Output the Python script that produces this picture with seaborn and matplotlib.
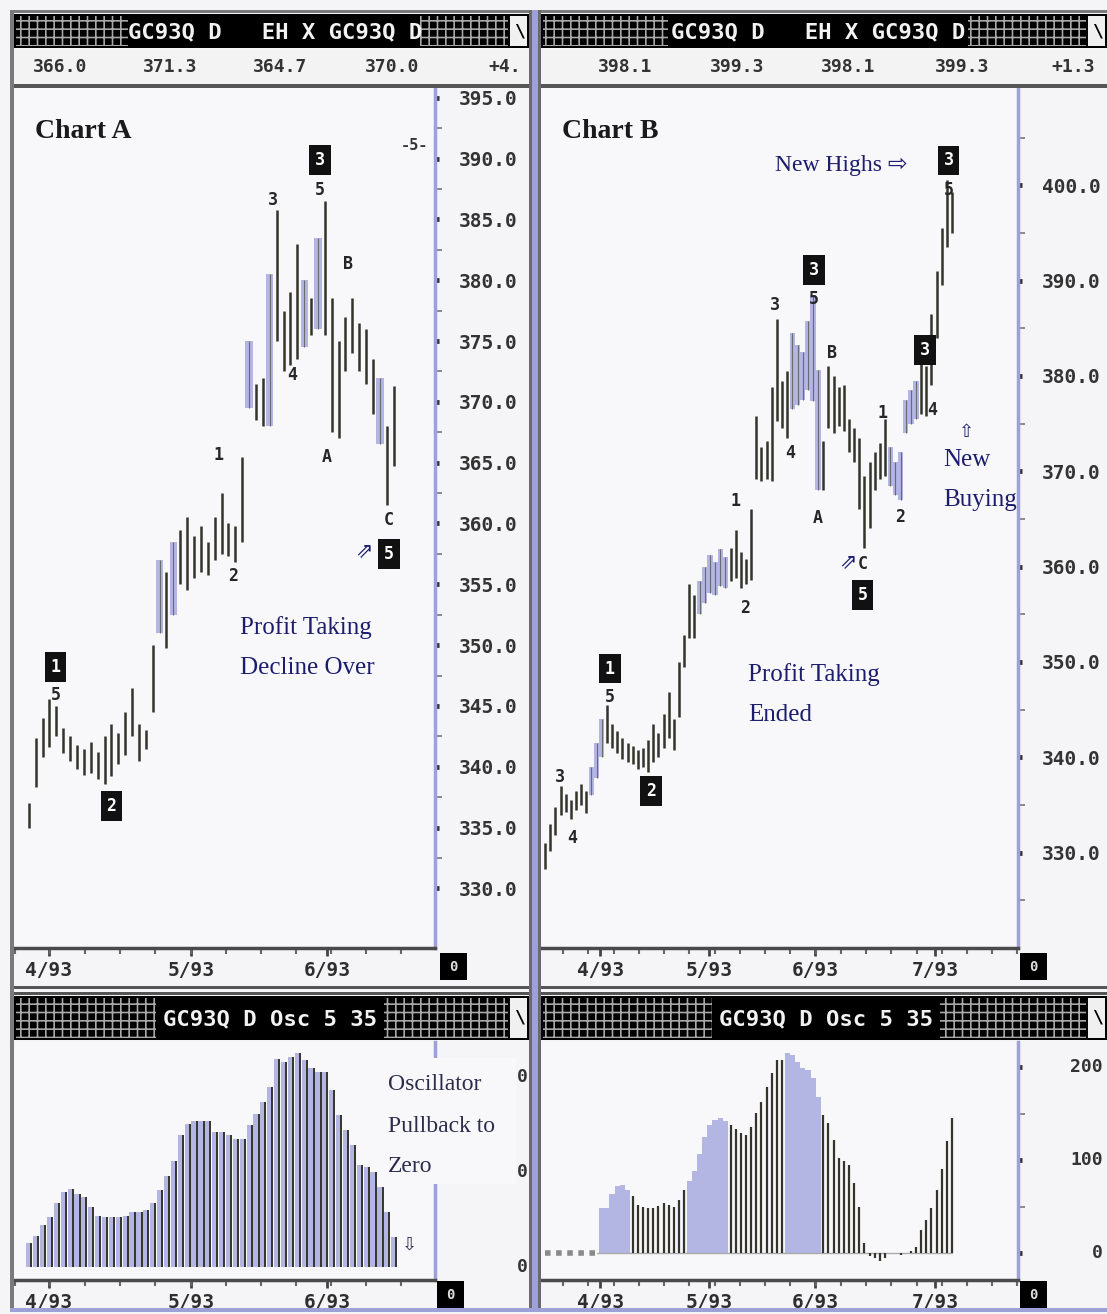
import numpy as np
import matplotlib
matplotlib.use('Agg')
import matplotlib.pyplot as plt
from matplotlib.patches import Rectangle
import seaborn as sns

# ---- Chart A: daily high / low, one entry per trading day ----
a_high = [337.0, 342.4, 344.0, 345.6, 345.0, 343.2, 342.5, 341.8, 341.5, 342.0,
          341.2, 342.5, 343.5, 342.8, 344.5, 346.5, 343.5, 343.0, 350.0, 357.0,
          356.0, 358.5, 359.5, 360.5, 359.0, 359.8, 358.5, 360.5, 362.5, 360.0,
          359.8, 365.5, 375.0, 371.5, 372.0, 380.5, 385.8, 377.5, 379.0, 383.0,
          380.0, 378.5, 383.5, 386.5, 378.5, 375.0, 377.0, 378.5, 376.5, 376.0,
          373.5, 372.0, 368.0, 371.3]
a_low = [335.0, 338.3, 340.8, 341.6, 342.5, 341.1, 340.5, 339.8, 339.3, 339.5,
         339.0, 338.6, 339.2, 340.2, 341.0, 342.5, 340.5, 341.5, 344.5, 351.0,
         349.8, 352.5, 355.0, 354.5, 355.5, 356.0, 355.8, 357.0, 357.5, 357.3,
         356.8, 358.5, 369.5, 368.5, 368.0, 368.0, 375.0, 372.5, 373.0, 373.5,
         374.5, 375.5, 376.0, 375.5, 367.5, 367.0, 372.5, 374.0, 372.5, 371.5,
         369.0, 366.5, 361.5, 364.7]
a_shaded = [19, 21, 32, 35, 40, 42, 51]

# ---- Chart B ----
b_high = [331.0, 333.0, 334.8, 337.0, 336.2, 335.5, 336.5, 337.2, 336.5, 339.0,
          341.5, 344.0, 345.5, 343.5, 342.8, 342.0, 341.5, 341.2, 340.8, 341.0,
          341.8, 343.5, 342.5, 344.5, 346.8, 344.0, 350.0, 352.8, 358.2, 357.0,
          358.5, 360.0, 361.2, 360.5, 361.8, 361.0, 362.0, 363.8, 361.5, 360.8,
          366.0, 375.8, 372.5, 373.2, 378.8, 386.0, 379.5, 380.5, 384.5, 383.2,
          382.5, 385.8, 388.5, 380.6, 373.2, 381.0, 380.0, 378.8, 379.0, 375.5,
          374.5, 373.5, 369.5, 371.0, 372.0, 373.0, 375.5, 372.5, 371.0, 372.0,
          377.5, 378.5, 379.5, 382.5, 381.0, 386.5, 391.0, 395.5, 400.5, 399.3]
b_low = [328.3, 330.2, 331.8, 334.0, 334.3, 333.5, 334.5, 335.0, 334.2, 336.0,
         337.8, 340.0, 341.5, 341.0, 340.5, 339.8, 339.5, 339.3, 338.8, 339.0,
         338.5, 339.5, 340.0, 341.0, 342.0, 340.8, 344.2, 349.5, 352.5, 352.5,
         355.0, 356.2, 357.2, 357.0, 358.0, 357.8, 358.5, 358.8, 357.8, 358.2,
         358.6, 369.2, 369.0, 369.2, 369.0, 375.3, 374.5, 373.5, 376.5, 377.0,
         377.5, 378.5, 377.4, 368.0, 368.0, 374.5, 374.0, 374.8, 374.2, 372.0,
         371.0, 366.0, 362.0, 364.0, 368.0, 369.2, 369.5, 368.5, 367.5, 367.0,
         374.0, 375.0, 375.5, 376.0, 375.8, 379.0, 384.0, 389.5, 393.5, 395.0]
b_shaded = [9, 10, 11, 30, 31, 32, 33, 34, 35, 48, 49, 50, 51, 52, 53,
            67, 68, 69, 70, 71, 72]

# ---- Osc 5/35 histograms ----
osc_a = [25, 33, 44, 53, 67, 79, 82, 77, 74, 63,
         54, 53, 53, 53, 54, 58, 58, 60, 67, 81,
         96, 112, 139, 151, 154, 154, 154, 142, 142, 139,
         135, 135, 149, 161, 174, 189, 219, 216, 221, 225,
         218, 209, 205, 205, 186, 160, 144, 128, 107, 105,
         100, 84, 58, 32]
osc_b = [0, 0, 0, 0, 0, 0, 0, 0, 0, 0,
         0, 48, 48, 64, 72, 73, 68, 61, 52, 50,
         48, 48, 51, 54, 52, 50, 57, 68, 77, 88,
         106, 125, 138, 143, 145, 142, 138, 133, 129, 127,
         136, 151, 163, 179, 194, 208, 208, 215, 213, 206,
         199, 197, 188, 168, 149, 140, 122, 102, 99, 95,
         75, 50, 11, -3, -5, -9, -5, 0, 0, -2,
         0, 2, 7, 25, 36, 48, 68, 90, 120, 145]
osc_b_shaded = [(11, 16), (28, 35), (47, 53)]
osc_b_flat = 11  # leading days drawn as the dotted zero line

# ---- axis text ----
a_months = ['4/93', '5/93', '6/93']
a_month_pos = [2.9, 23.6, 43.3]
b_months = ['4/93', '5/93', '6/93', '7/93']
b_month_pos = [10.7, 31.8, 52.4, 75.7]
a_quote = ['366.0', '371.3', '364.7', '370.0', '+4.']
b_quote = ['398.1', '399.3', '398.1', '399.3', '+1.3']
osc_b_ticks = ['200', '100', '0']
price_title = 'GC93Q D   EH X GC93Q D'
osc_title = 'GC93Q D Osc 5 35'

# wave counts: (label, day index, price, boxed)
a_waves = [('1', 3.9, 348.2, True), ('5', 3.9, 345.9, False), ('2', 12, 336.8, True),
           ('1', 27.6, 365.6, False), ('2', 29.7, 355.7, False), ('3', 35.4, 386.6, False),
           ('4', 38.3, 372.2, False), ('3', 42.3, 389.9, True), ('5', 42.3, 387.4, False),
           ('A', 43.3, 365.5, False), ('B', 46.4, 381.3, False), ('C', 52.3, 360.3, False),
           ('5', 52.3, 357.5, True)]
b_waves = [('3', 2.9, 337.9, False), ('4', 5.2, 331.5, False), ('1', 12.6, 349.3, True),
           ('5', 12.6, 346.3, False), ('2', 20.6, 336.5, True), ('1', 36.9, 366.9, False),
           ('2', 38.8, 355.7, False), ('3', 44.7, 387.4, False), ('4', 47.6, 371.9, False),
           ('3', 52.2, 391.1, True), ('5', 52.2, 388.1, False), ('A', 53.0, 365.1, False),
           ('B', 55.7, 382.4, False), ('C', 61.6, 360.3, False), ('5', 61.6, 357.0, True),
           ('1', 65.4, 376.1, False), ('2', 68.9, 365.2, False), ('3', 73.8, 382.7, True),
           ('4', 75.1, 376.4, False), ('3', 78.3, 402.6, True), ('5', 78.3, 399.5, False)]

W, H = 1107, 1314
DARK = '#34342a'
LAV = '#b3b5e3'
AXLAV = '#9ea0d8'
NAVY = '#1d1d6e'
MONO = 'DejaVu Sans Mono'
SERIF = ['Liberation Serif', 'DejaVu Sans']

sns.set_theme(style='white')
plt.rcParams['font.family'] = ['DejaVu Sans']
plt.rcParams['hatch.linewidth'] = 1.2

fig = plt.figure(figsize=(W / 100, H / 100), dpi=100)
fig.patch.set_facecolor('#f5f5f7')


def fx(x):
    return x / W


def fy(y):
    return 1 - y / H


def frect(x0, y0, x1, y1, z=1, **kw):
    fig.add_artist(Rectangle((fx(x0), fy(y1)), fx(x1) - fx(x0), fy(y0) - fy(y1),
                             transform=fig.transFigure, zorder=z, **kw))


def ftext(x, y, s, z=6, **kw):
    fig.text(fx(x), fy(y), s, zorder=z, **kw)


def new_ax(x0, y0, x1, y1):
    ax = fig.add_axes([fx(x0), fy(y1), fx(x1) - fx(x0), fy(y0) - fy(y1)])
    ax.set_facecolor('#f8f8fb')
    ax.spines['top'].set_visible(False)
    ax.spines['left'].set_visible(False)
    ax.spines['right'].set_color(AXLAV)
    ax.spines['right'].set_linewidth(2.5)
    ax.spines['bottom'].set_color('#4a4a4a')
    ax.spines['bottom'].set_linewidth(2.5)
    ax.yaxis.tick_right()
    ax.set_xlabel('')
    ax.set_ylabel('')
    return ax


def date_axis(ax, pos, labels, weeks):
    ax.set_xticks(pos, labels=labels, fontfamily=MONO, fontweight='bold',
                  fontsize=14, color='#2e2e2e')
    ax.set_xticks(weeks, minor=True)
    ax.tick_params(axis='x', which='major', direction='out', length=6, width=2,
                   color='#444', pad=3, bottom=True)
    ax.tick_params(axis='x', which='minor', direction='out', length=4, width=1.5,
                   color='#666', bottom=True)


def header(x0, x1, y0, y1, text, cx, pat):
    frect(x0, y0, x1, y1, facecolor='black', edgecolor='none')
    for p0, p1 in pat:
        frect(p0, y0 + 2, p1, y1 - 2, z=2, facecolor='black', edgecolor='#a8a8a8',
              hatch='++', linewidth=0)
    frect(x1 - 19, y0 + 2, x1 - 2, y1 - 2, z=2, facecolor='#f0f0f0', edgecolor='none')
    ftext(x1 - 10, (y0 + y1) / 2, '\\', ha='center', va='center', fontsize=13,
          fontweight='bold', color='black', family=MONO)
    ftext(cx, (y0 + y1) / 2 + 1, text, ha='center', va='center', fontsize=16,
          fontweight='bold', color='#f2f2f2', family=MONO)


def zero_box(x0, y0):
    frect(x0, y0, x0 + 27, y0 + 27, z=2, facecolor='black', edgecolor='none')
    ftext(x0 + 13.5, y0 + 14, '0', ha='center', va='center', fontsize=10,
          fontweight='bold', color='#dddddd', family=MONO)


def draw_price(ax, hi, lo, shaded):
    hi = np.asarray(hi)
    lo = np.asarray(lo)
    idx = np.arange(len(hi))
    sh = np.asarray(shaded)
    ax.bar(sh, hi[sh] - lo[sh], bottom=lo[sh], width=1.05, color=LAV,
           linewidth=0, zorder=1)
    plain = np.setdiff1d(idx, sh)
    ax.vlines(plain, lo[plain], hi[plain], color=DARK, lw=1.8, zorder=2)
    ax.vlines(sh, lo[sh], hi[sh], color='#6a6a70', lw=0.8, zorder=2)


def waves(ax, items):
    for lab, i, p, boxed in items:
        if boxed:
            ax.text(i, p, lab, ha='center', va='center', fontsize=12, fontweight='bold',
                    family=MONO, color='white', zorder=5,
                    bbox=dict(boxstyle='square,pad=0.35', fc='#111111', ec='none'))
        else:
            ax.text(i, p, lab, ha='center', va='center', fontsize=12, fontweight='bold',
                    family=MONO, color='#262626', zorder=5)


# ---------- frame ----------
frect(10, 10, 1107, 13, facecolor='#7a7a7a', edgecolor='none')
frect(10, 10, 14, 1312, facecolor='#7a7a7a', edgecolor='none')
frect(529, 10, 532, 1312, facecolor='#6a6a6a', edgecolor='none')
frect(532, 10, 538, 1312, facecolor=AXLAV, edgecolor='none')
frect(538, 10, 541, 1312, facecolor='#6a6a6a', edgecolor='none')
frect(10, 1308, 1107, 1312, facecolor=AXLAV, edgecolor='none')
for xa, xb in [(14, 529), (541, 1107)]:
    frect(xa, 84, xb, 88, facecolor='#555555', edgecolor='none')
    frect(xa, 986, xb, 989, facecolor='#555555', edgecolor='none')
    frect(xa, 992, xb, 995, facecolor='#555555', edgecolor='none')
    frect(xa, 49, xb, 84, facecolor='#f3f3f3', edgecolor='none')

# headers
header(14, 529, 14, 48, price_title, 275, [(16, 128), (420, 508)])
header(541, 1107, 14, 48, price_title, 818, [(543, 668), (968, 1086)])
header(14, 529, 996, 1040, osc_title, 270, [(16, 156), (384, 508)])
header(541, 1107, 996, 1040, osc_title, 826, [(543, 712), (940, 1086)])

for s, x in zip(a_quote, [60, 170, 280, 392, 505]):
    ftext(x, 67, s, ha='center', va='center', fontsize=13, fontweight='bold',
          family=MONO, color='#333333')
for s, x in zip(b_quote, [625, 737, 848, 962, 1073]):
    ftext(x, 67, s, ha='center', va='center', fontsize=13, fontweight='bold',
          family=MONO, color='#333333')

# ---------- Chart A price ----------
axA = new_ax(15, 88, 435, 948)
draw_price(axA, a_high, a_low, a_shaded)
axA.set_xlim(-1, 59)
axA.set_ylim(325.1, 395.8)
ya = np.arange(330, 396, 5)
axA.set_yticks(ya, labels=[f'{v:.1f}' for v in ya], fontfamily=MONO,
               fontweight='bold', fontsize=14, color='#333333')
axA.set_yticks(ya[:-1] + 2.5, minor=True)
axA.tick_params(axis='y', which='major', direction='out', length=3, width=3.5,
                color='#333', pad=14, right=True)
axA.tick_params(axis='y', which='minor', direction='out', length=5, width=1.2,
                color='#777', right=True)
date_axis(axA, a_month_pos, a_months, np.arange(-2, 59, 5.1))
waves(axA, a_waves)
axA.text(56, 391.1, '-5-', ha='center', va='center', fontsize=11, fontweight='bold',
         family=MONO, color='#333333')
axA.text(48.7, 357.8, '\u21d7', ha='center', va='center', fontsize=15, color=NAVY,
         family=['DejaVu Sans'])

# ---------- Chart B price ----------
axB = new_ax(542, 88, 1018, 948)
draw_price(axB, b_high, b_low, b_shaded)
axB.set_xlim(-0.6, 91.8)
axB.set_ylim(320.0, 410.2)
yb = np.arange(330, 401, 10)
axB.set_yticks(yb, labels=[f'{v:.1f}' for v in yb], fontfamily=MONO,
               fontweight='bold', fontsize=14, color='#333333')
axB.set_yticks(np.arange(325, 406, 10), minor=True)
axB.tick_params(axis='y', which='major', direction='out', length=3, width=3.5,
                color='#333', pad=14, right=True)
axB.tick_params(axis='y', which='minor', direction='out', length=5, width=1.2,
                color='#777', right=True)
date_axis(axB, b_month_pos, b_months, np.arange(3.5, 92, 4.9))
waves(axB, b_waves)
axB.text(58.8, 360.6, '\u21d7', ha='center', va='center', fontsize=15, color=NAVY,
         family=['DejaVu Sans'])

zero_box(440, 953)
zero_box(1020, 953)

# ---------- Oscillator A ----------
oA = new_ax(15, 1042, 435, 1280)
ia = np.arange(len(osc_a))
sns.barplot(x=ia, y=osc_a, native_scale=True, color=LAV, width=0.75,
            saturation=1, linewidth=0, ax=oA)
oA.vlines(ia + 0.38, 0, osc_a, color=DARK, lw=1.4, zorder=3)
oA.set_xlim(-1, 59)
oA.set_ylim(-13.7, 236.8)
oA.set_yticks([])
oA.set_xlabel('')
oA.set_ylabel('')
date_axis(oA, a_month_pos, a_months, np.arange(-2, 59, 5.1))

# ---------- Oscillator B ----------
oB = new_ax(542, 1042, 1018, 1280)
ib = np.arange(len(osc_b))
vb = np.asarray(osc_b, dtype=float)
shade_idx = np.concatenate([np.arange(s, e + 1) for s, e in osc_b_shaded])
oB.bar(shade_idx, vb[shade_idx], width=1.05, color=LAV, linewidth=0, zorder=1)
dark_idx = np.setdiff1d(ib[osc_b_flat:], shade_idx)
oB.vlines(dark_idx, 0, vb[dark_idx], color=DARK, lw=1.6, zorder=2)
oB.plot(ib[:osc_b_flat], vb[:osc_b_flat], ls=(0, (1, 1)), color='#8a8a8a', lw=4,
        zorder=2)
oB.plot(ib[osc_b_flat - 1:], np.zeros(len(ib) - osc_b_flat + 1), color='#aaaaaa',
        lw=1.0, zorder=1)
oB.set_xlim(-0.6, 91.8)
oB.set_ylim(-29, 227)
oB.set_yticks([0, 100, 200], labels=['', '', ''])
oB.set_yticks([50, 150], minor=True)
oB.tick_params(axis='y', which='major', direction='out', length=3, width=3.5,
               color='#333', right=True)
oB.tick_params(axis='y', which='minor', direction='out', length=5, width=1.2,
               color='#777', right=True)
date_axis(oB, b_month_pos, b_months, np.arange(3.5, 92, 4.9))

zero_box(437, 1281)
zero_box(1020, 1281)

# oscillator scale labels at the right edge of the screen
for v, y in zip(osc_b_ticks, [1067, 1160, 1253]):
    ftext(1103, y, v, ha='right', va='center', fontsize=13, fontweight='bold',
          family=MONO, color='#333333', z=3)
for y in [1077, 1172, 1267]:
    ftext(528, y, '0', ha='right', va='center', fontsize=13, fontweight='bold',
          family=MONO, color='#333333', z=3)

# white patch behind the oscillator note, as on the original screen
frect(384, 1058, 516, 1184, z=4, facecolor='#f8f8fb', edgecolor='none')

# ---------- notes ----------
ftext(35, 132, 'Chart A', family=SERIF, fontsize=20, fontweight='bold',
      color='#1a1a1a', va='center')
ftext(562, 132, 'Chart B', family=SERIF, fontsize=20, fontweight='bold',
      color='#1a1a1a', va='center')
ftext(240, 628, 'Profit Taking', family=SERIF, fontsize=18, color=NAVY, va='center')
ftext(240, 668, 'Decline Over', family=SERIF, fontsize=18, color=NAVY, va='center')
ftext(748, 675, 'Profit Taking', family=SERIF, fontsize=18, color=NAVY, va='center')
ftext(748, 715, 'Ended', family=SERIF, fontsize=18, color=NAVY, va='center')
ftext(775, 165, 'New Highs \u21e8', family=SERIF, fontsize=17, color=NAVY, va='center')
ftext(966, 432, '\u21e7', family=['DejaVu Sans'], fontsize=13, color=NAVY,
      ha='center', va='center')
ftext(943, 460, 'New', family=SERIF, fontsize=18, color=NAVY, va='center')
ftext(943, 500, 'Buying', family=SERIF, fontsize=18, color=NAVY, va='center')
ftext(388, 1085, 'Oscillator', family=SERIF, fontsize=17, color='#2c2c4c', va='center')
ftext(388, 1127, 'Pullback to', family=SERIF, fontsize=17, color='#2c2c4c', va='center')
ftext(388, 1167, 'Zero', family=SERIF, fontsize=17, color='#2c2c4c', va='center')
ftext(409, 1245, '\u21e9', family=['DejaVu Sans'], fontsize=13, color='#2c2c4c',
      ha='center', va='center')

fig.savefig('out.png', dpi=100, facecolor=fig.get_facecolor())
